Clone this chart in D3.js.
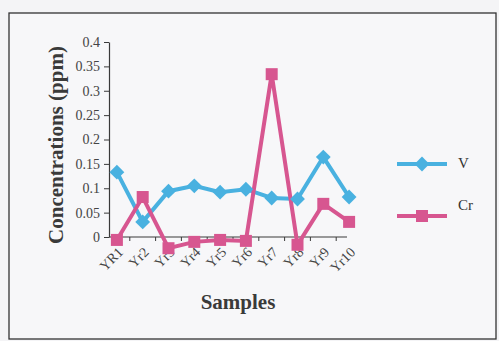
<!DOCTYPE html>
<html><head><meta charset="utf-8">
<script src="https://cdn.jsdelivr.net/npm/d3@7"></script>
<style>html,body{margin:0;padding:0;background:#f4f4f6;}svg{display:block;}</style>
</head><body>
<script>
const categories = ["YR1","Yr2","Yr3","Yr4","Yr5","Yr6","Yr7","Yr8","Yr9","Yr10"];
const vValues  = [0.133,0.031,0.094,0.105,0.092,0.098,0.080,0.078,0.164,0.082];
const crValues = [-0.006,0.082,-0.023,-0.010,-0.006,-0.008,0.334,-0.016,0.068,0.031];
const yTicks = [0,0.05,0.1,0.15,0.2,0.25,0.3,0.35,0.4];
const seriesNames = ["V","Cr"];

const W=499,H=341;
const svg=d3.select("body").append("svg").attr("width",W).attr("height",H);
svg.append("rect").attr("width",W).attr("height",H).attr("fill","#f4f4f6");
svg.append("rect").attr("x",9).attr("y",13).attr("width",487).attr("height",326)
  .attr("fill","#f7f7f9").attr("stroke","#333").attr("stroke-width",1.3);

const x=d3.scaleBand().domain(categories).range([104,362]);
const y=d3.scaleLinear().domain([0,0.4]).range([237,42]);
const cx=d=>x(d)+x.bandwidth()/2;
const font="'Liberation Serif','Times New Roman',serif";
const axisColor="#3a3a3a";

// y axis
const ya=svg.append("g").attr("transform","translate(109,0)")
  .call(d3.axisLeft(y).tickValues(yTicks).tickSize(5).tickSizeOuter(0).tickFormat(d=>d===0?"0":String(+d.toFixed(2))));
ya.select(".domain").attr("stroke",axisColor).attr("stroke-width",1.2);
ya.selectAll(".tick line").attr("stroke",axisColor);
ya.selectAll("text").attr("font-family",font).attr("font-size",14).attr("fill","#444").attr("x",-9);

// x axis
const xa=svg.append("g").attr("transform",`translate(0,${y(0)})`);
xa.append("line").attr("x1",109).attr("x2",347).attr("stroke",axisColor).attr("stroke-width",1.2);
xa.selectAll(".xt").data(categories.slice(1)).join("line")
  .attr("x1",d=>x(d)).attr("x2",d=>x(d)).attr("y1",0).attr("y2",4).attr("stroke",axisColor);
xa.selectAll(".xl").data(categories).join("text")
  .attr("font-family",font).attr("font-size",14).attr("fill","#444")
  .attr("text-anchor","end")
  .attr("transform",d=>`translate(${cx(d)+7},${16}) rotate(-45)`)
  .text(d=>d);

// titles
svg.append("text").attr("transform","translate(63,145) rotate(-90)")
  .attr("text-anchor","middle").attr("font-family",font).attr("font-weight","bold")
  .attr("font-size",21).attr("fill","#3a3a3a").text("Concentrations (ppm)");
svg.append("text").attr("x",238).attr("y",309).attr("text-anchor","middle")
  .attr("font-family",font).attr("font-weight","bold").attr("font-size",21)
  .attr("fill","#3a3a3a").text("Samples");

const colors={V:"#49b1e0",Cr:"#d75690"};
const data={V:vValues,Cr:crValues};
const line=d3.line().x((d,i)=>cx(categories[i])).y(d=>y(d));
seriesNames.forEach(s=>{
  svg.append("path").datum(data[s]).attr("d",line).attr("fill","none")
    .attr("stroke",colors[s]).attr("stroke-width",4).attr("stroke-linejoin","miter");
});
const diamond=d3.symbol().type(d3.symbolSquare).size(110);
svg.selectAll(".mv").data(vValues).join("path")
  .attr("d",diamond).attr("fill",colors.V)
  .attr("transform",(d,i)=>`translate(${cx(categories[i])},${y(d)}) rotate(45)`);
svg.selectAll(".mc").data(crValues).join("rect")
  .attr("x",(d,i)=>cx(categories[i])-6).attr("y",d=>y(d)-6)
  .attr("width",12).attr("height",12).attr("fill",colors.Cr);

// legend
const leg=[{s:"V",y:164,ty:168},{s:"Cr",y:216,ty:210}];
leg.forEach(l=>{
  svg.append("line").attr("x1",397).attr("x2",447).attr("y1",l.y).attr("y2",l.y)
    .attr("stroke",colors[l.s]).attr("stroke-width",4);
  if(l.s==="V"){
    svg.append("path").attr("d",diamond).attr("fill",colors.V)
      .attr("transform",`translate(422,${l.y}) rotate(45)`);
  } else {
    svg.append("rect").attr("x",416).attr("y",l.y-6).attr("width",12).attr("height",12).attr("fill",colors.Cr);
  }
  svg.append("text").attr("x",458).attr("y",l.ty).attr("font-family",font)
    .attr("font-size",15).attr("fill","#333").text(l.s);
});
</script>
</body></html>
